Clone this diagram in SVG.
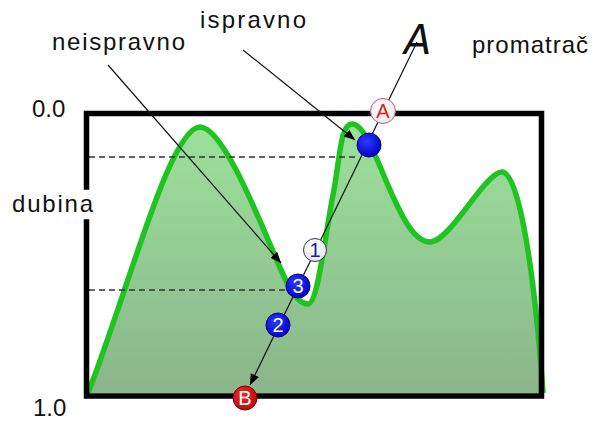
<svg xmlns="http://www.w3.org/2000/svg" width="598" height="422" viewBox="0 0 598 422">
<defs>
<linearGradient id="fillGrad" gradientUnits="userSpaceOnUse" x1="0" y1="120" x2="0" y2="395">
<stop offset="0" stop-color="#9ce19c"/>
<stop offset="1" stop-color="#8bb58b"/>
</linearGradient>
<radialGradient id="blueG" cx="0.4" cy="0.35" r="0.7">
<stop offset="0" stop-color="#2a3cff"/>
<stop offset="1" stop-color="#0000c8"/>
</radialGradient>
<radialGradient id="whiteG" cx="0.4" cy="0.35" r="0.7">
<stop offset="0" stop-color="#ffffff"/>
<stop offset="1" stop-color="#e6e6ee"/>
</radialGradient>
<radialGradient id="redG" cx="0.4" cy="0.35" r="0.7">
<stop offset="0" stop-color="#ee2a2a"/>
<stop offset="1" stop-color="#b80808"/>
</radialGradient>
<marker id="arr" markerUnits="userSpaceOnUse" markerWidth="12" markerHeight="10" refX="11" refY="4.5" orient="auto">
<path d="M0,0 L11,4.5 L0,9 z" fill="#000"/>
</marker>
</defs>
<style>
text{font-family:"Liberation Sans",Arial,sans-serif;}
.lbl{font-size:24px;fill:#111;}
.dash{stroke:#333;stroke-width:1.5;stroke-dasharray:6 4;fill:none;}
.box{stroke:#000;stroke-width:5.5;fill:none;stroke-linecap:square;}
.curve{stroke:#20c420;stroke-width:5.5;fill:none;stroke-linejoin:round;}
.conn{stroke:#111;stroke-width:1.2;fill:none;}
.num{font-size:20px;text-anchor:middle;}
</style>

<g id="chart">
<path d="M88,393 C130,285 170,128 200,127 C225,127 265,235 282,272 C290,290 298,304 308,304 C318,304 325,235 333,195 C340,160 340,124 352,124 C364,124 375,155 387,183 C398,208 412,242 430,242 C450,242 485,172 502,172 C520,172 535,280 543,393 L88,393 Z" fill="url(#fillGrad)"/>
<path class="curve" d="M88,393 C130,285 170,128 200,127 C225,127 265,235 282,272 C290,290 298,304 308,304 C318,304 325,235 333,195 C340,160 340,124 352,124 C364,124 375,155 387,183 C398,208 412,242 430,242 C450,242 485,172 502,172 C520,172 535,280 543,393"/>
<line class="dash" x1="89" y1="157" x2="358" y2="157"/>
<line class="dash" x1="89" y1="290" x2="285" y2="290"/>
<path class="box" d="M86.5,187 L86.5,113.5 L541.5,113.5 L541.5,396 L86.5,396 L86.5,222"/>
</g>

<g id="labels">
<text class="lbl" x="200" y="28" textLength="106" lengthAdjust="spacing">ispravno</text>
<text class="lbl" x="52" y="50" textLength="133" lengthAdjust="spacing">neispravno</text>
<text class="lbl" x="472" y="53" textLength="116" lengthAdjust="spacing">promatrač</text>
<text class="lbl" x="32" y="117">0.0</text>
<text class="lbl" x="12" y="212" textLength="81" lengthAdjust="spacing">dubina</text>
<text class="lbl" x="33" y="416">1.0</text>
<text x="404" y="54" style="font-family:'DejaVu Sans',sans-serif;font-size:40px;font-weight:200;font-style:italic;fill:#111;">A</text>
</g>

<g id="connectors">
<line class="conn" x1="417" y1="42" x2="250" y2="385" marker-end="url(#arr)"/>
<line class="conn" x1="108" y1="65" x2="281" y2="263" marker-end="url(#arr)"/>
<line class="conn" x1="243" y1="50" x2="355" y2="140" marker-end="url(#arr)"/>
</g>

<g id="node-A">
<circle cx="383" cy="111" r="12.5" fill="url(#whiteG)" stroke="#b86060" stroke-width="1"/>
<text class="num" x="383" y="118" fill="#e02020">A</text>
</g>
<g id="node-hit">
<circle cx="369" cy="145" r="12" fill="url(#blueG)" stroke="#000070" stroke-width="1"/>
</g>
<g id="node-1">
<circle cx="315" cy="250" r="11.5" fill="url(#whiteG)" stroke="#333355" stroke-width="1"/>
<text class="num" x="315" y="257" fill="#1a1aa0">1</text>
</g>
<g id="node-3">
<circle cx="298" cy="286" r="12" fill="url(#blueG)" stroke="#000070" stroke-width="1"/>
<text class="num" x="298" y="293" fill="#fff">3</text>
</g>
<g id="node-2">
<circle cx="278" cy="325" r="12" fill="url(#blueG)" stroke="#000070" stroke-width="1"/>
<text class="num" x="278" y="332" fill="#fff">2</text>
</g>
<g id="node-B">
<circle cx="245" cy="398" r="12" fill="url(#redG)" stroke="#700000" stroke-width="1"/>
<text class="num" x="245" y="405" fill="#fff">B</text>
</g>
</svg>
